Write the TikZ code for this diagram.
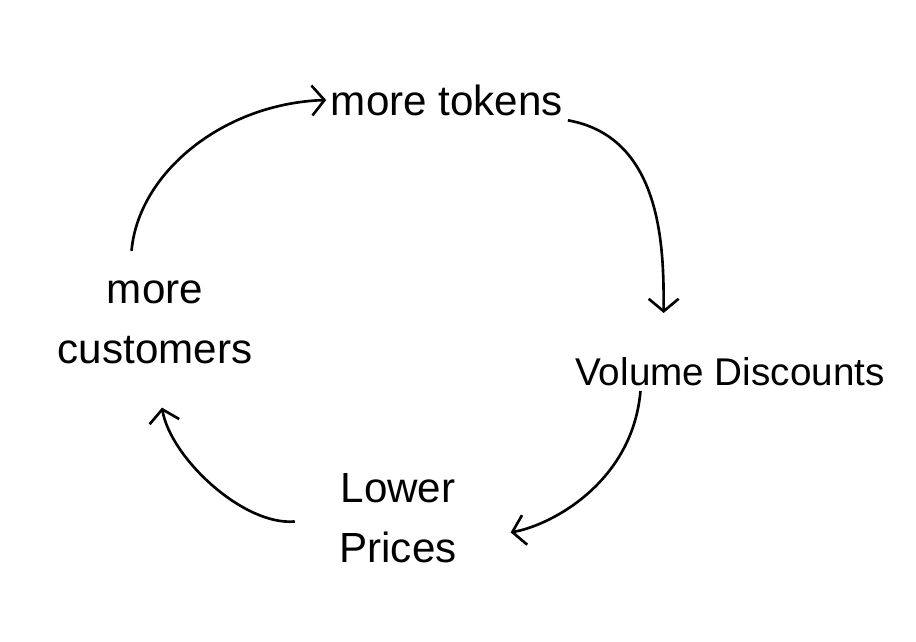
\documentclass[tikz,border=0pt]{standalone}
\usepackage{fontspec}
\setmainfont{Liberation Sans}
\usetikzlibrary{arrows.meta}

\begin{document}
\begin{tikzpicture}[x=0.02cm,y=-0.02cm,->,
	>={Straight Barb[length=2.5mm,width=6mm]},
	line width=1.5pt,
	cycle node/.style={font=\fontsize{24}{34}\selectfont,align=center,inner sep=2pt}
]

	\useasboundingbox (0,0) rectangle (916,642);

	\node[cycle node] (tokens) at (447,100) {more tokens};
	\node[cycle node,font=\fontsize{22}{30}\selectfont] (discounts) at (730,372) {Volume Discounts};
	\node[cycle node] (prices) at (398,518) {Lower\\Prices};
	\node[cycle node] (customers) at (155,322) {more\\customers};

	\draw[shorten <=5mm] (customers.119) to[out=85,in=182] (tokens.west);
	\draw[shorten >=8mm] (tokens.south east) to[out=-10,in=90] (discounts.164);
	\draw[shorten >=1cm] (discounts.192) to[out=-95,in=10] (prices.-20);
	\draw[shorten <=8mm,shorten >=8mm] (prices.west) to[out=185,in=-80] (customers.south);
\end{tikzpicture}
\end{document}
